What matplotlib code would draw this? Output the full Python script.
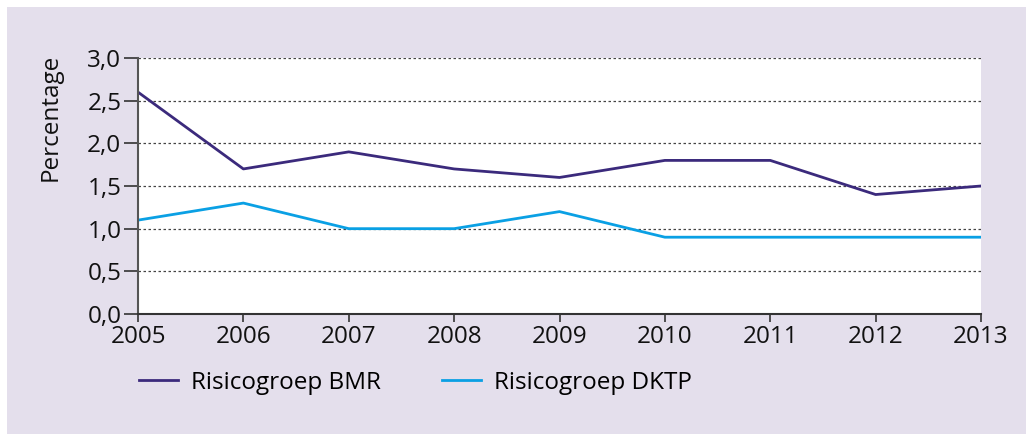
import matplotlib.pyplot as plt
from matplotlib.patches import Rectangle

years = [2005, 2006, 2007, 2008, 2009, 2010, 2011, 2012, 2013]
bmr = [2.6, 1.7, 1.9, 1.7, 1.6, 1.8, 1.8, 1.4, 1.5]
dktp = [1.1, 1.3, 1.0, 1.0, 1.2, 0.9, 0.9, 0.9, 0.9]
y_ticks = [0.0, 0.5, 1.0, 1.5, 2.0, 2.5, 3.0]
y_labels = ['0,0', '0,5', '1,0', '1,5', '2,0', '2,5', '3,0']

plt.rcParams['font.family'] = ['Open Sans', 'DejaVu Sans']
FS = 17.5

fig = plt.figure(figsize=(10.26, 4.34), dpi=100)
fig.patch.set_facecolor('white')
# lavender panel behind the chart
fig.patches.append(Rectangle((7 / 1026, 0), 1 - 7 / 1026, 1 - 7 / 434,
                             transform=fig.transFigure, facecolor='#e4dfec',
                             edgecolor='none', zorder=-10))

ax = fig.add_axes([138 / 1026, 120 / 434, 843 / 1026, 256 / 434])
ax.set_facecolor('white')

line_bmr, = ax.plot(years, bmr, color='#3b2a7c', lw=2, label='Risicogroep BMR')
line_dktp, = ax.plot(years, dktp, color='#0aa0e4', lw=2, label='Risicogroep DKTP')

ax.set_xlim(2005, 2013)
ax.set_ylim(0, 3)
ax.set_xticks(years)
ax.set_xticklabels([str(y) for y in years])
ax.set_yticks(y_ticks)
ax.set_yticklabels(y_labels)
ax.yaxis.grid(True, linestyle=(0, (2, 2)), color='#444444', lw=0.9)
ax.set_axisbelow(True)

for side in ['top', 'right']:
    ax.spines[side].set_visible(False)
ax.spines['left'].set_color('#555555')
ax.spines['bottom'].set_color('#333333')
ax.spines['left'].set_linewidth(1.5)
ax.spines['bottom'].set_linewidth(1.5)
ax.tick_params(axis='both', direction='out', length=6, width=1.2,
               colors='#333333', labelcolor='#111111', labelsize=FS, pad=2)
ax.tick_params(axis='y', length=10)

ax.set_ylabel('Percentage', fontsize=FS, color='#111111')
ax.yaxis.set_label_coords(-0.089, 0.77)

fig.legend(handles=[line_bmr, line_dktp], loc='center left',
           bbox_to_anchor=(117 / 1026, 1 - 383 / 434), ncol=2, frameon=False,
           fontsize=FS, handlelength=1.6, columnspacing=2.5, handletextpad=0.55)

fig.savefig('out.png', dpi=100)
